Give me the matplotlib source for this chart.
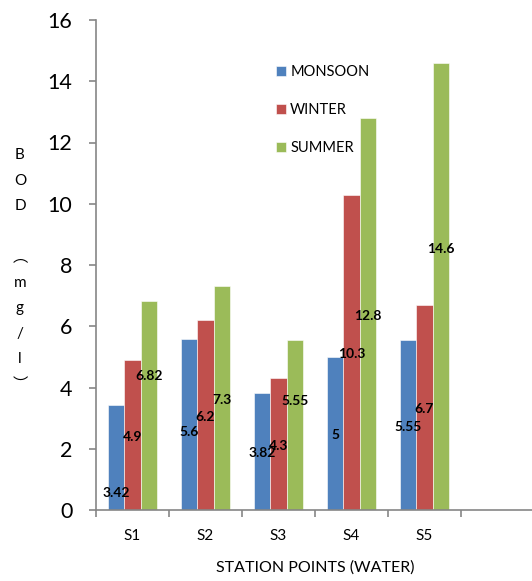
import numpy as np
import matplotlib.pyplot as plt

# dados
stations = ['S1', 'S2', 'S3', 'S4', 'S5']
monsoon = [3.42, 5.6, 3.82, 5.0, 5.55]
winter = [4.9, 6.2, 4.3, 10.3, 6.7]
summer = [6.82, 7.3, 5.55, 12.8, 14.6]

# altura onde o rótulo de cada barra foi colocado (como no original)
monsoon_lbl = [0.55, 2.55, 1.86, 2.45, 2.71]
winter_lbl = [2.38, 3.04, 2.09, 5.1, 3.3]
summer_lbl = [4.38, 3.6, 3.56, 6.34, 8.53]

plt.rcParams['font.family'] = ['Lato', 'DejaVu Sans']

fig = plt.figure(figsize=(5.32, 5.81), dpi=100)
ax = fig.add_axes([96 / 532, 71 / 581, 438 / 532, 490 / 581])

x = np.arange(len(stations))
w = 0.223
series = [(monsoon, monsoon_lbl, '#4F81BD', 'MONSOON'),
          (winter, winter_lbl, '#C0504D', 'WINTER'),
          (summer, summer_lbl, '#9BBB59', 'SUMMER')]

for i, (vals, lbl_y, cor, nome) in enumerate(series):
    pos = x + (i - 1) * w
    ax.bar(pos, vals, width=w, color=cor, edgecolor='white', linewidth=0.4, label=nome)
    for px, v, ly in zip(pos, vals, lbl_y):
        ax.text(px, ly, f'{v:g}', ha='center', va='center', fontsize=10,
                fontweight='bold', color='black')

ax.set_xlim(-0.5, 5.5)
ax.set_ylim(0, 16)
ax.set_yticks(np.arange(0, 17, 2))
ax.set_xticks(x)
ax.set_xticklabels(stations)
ax.set_xticks(np.arange(-0.5, 6.0, 1), minor=True)

for s in ['top', 'right']:
    ax.spines[s].set_visible(False)
for s in ['left', 'bottom']:
    ax.spines[s].set_color('#868686')
    ax.spines[s].set_linewidth(1.2)

ax.tick_params(axis='y', length=5, width=1.2, color='#868686', pad=12, labelsize=15.5)
ax.tick_params(axis='x', which='major', length=0, pad=14, labelsize=11)
ax.tick_params(axis='x', which='minor', length=5, width=1.2, color='#868686')

ax.set_xlabel('STATION POINTS (WATER)', fontsize=11.5, labelpad=12)

fig.text(20 / 532, 1 - 270 / 581, 'B\nO\nD\n \n\ufe35\nm\ng\n/\nl\n\ufe36',
         ha='center', va='center', fontsize=11, linespacing=2.05,
         family=['Lato', 'Noto Sans CJK SC', 'DejaVu Sans'])

ax.legend(loc='upper left', bbox_to_anchor=(0.38, 0.935), frameon=False,
          fontsize=10.5, handlelength=0.7, handleheight=0.7, handletextpad=0.3,
          labelspacing=1.65)

plt.savefig('out.png', dpi=100)
